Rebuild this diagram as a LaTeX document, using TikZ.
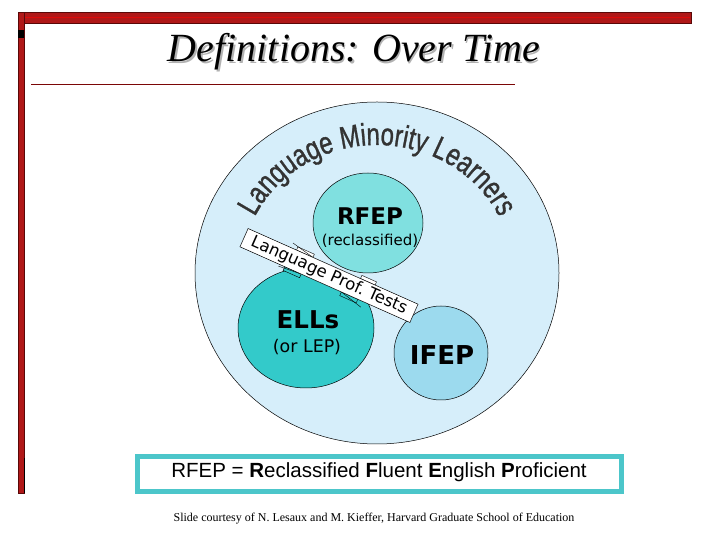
\documentclass[tikz,border=0pt]{standalone}
\usepackage{fontspec}
\setmainfont{Liberation Serif}
\newfontfamily\dvfont{DejaVu Sans}
\newfontfamily\lsfont{Liberation Sans}
\newfontfamily\lsboldfont[FakeBold=1.2]{Liberation Sans}
\usetikzlibrary{decorations.text}
\definecolor{framered}{HTML}{B01818}
\definecolor{framedark}{HTML}{5A0808}
\definecolor{outerblue}{HTML}{D6EEFA}
\definecolor{rfepcol}{HTML}{80E0E0}
\definecolor{ellcol}{HTML}{33CACA}
\definecolor{ifepcol}{HTML}{9CDAEE}
\definecolor{boxteal}{HTML}{4CC6CA}
\definecolor{arcgray}{HTML}{333333}
\newcommand\vstretchchar[1]{\scalebox{1}[1.3]{#1}}
\tikzset{
  bubble/.style={draw=black, line width=0.5pt},
  biglabel/.style={font=\dvfont\bfseries\fontsize{#1}{#1}\selectfont, inner sep=0pt},
  smalllabel/.style={font=\dvfont\fontsize{#1}{#1}\selectfont, inner sep=0pt},
  tabwhite/.style={fill=white, draw=black, line width=0.4pt},
  tabteal/.style={fill=ellcol, draw=black, line width=0.4pt},
}
\begin{document}
\begin{tikzpicture}[x=1pt,y=1pt]
\useasboundingbox (0,0) rectangle (720,540);
\fill[white] (0,0) rectangle (720,540);
% frame
\fill[framered, draw=framedark, line width=0.6pt] (18,517) rectangle (691,528);
\draw[red!60!framered, line width=0.8pt] (24,522.5) -- (690,522.5);
\fill[framered, draw=framedark, line width=0.6pt] (18,47) rectangle (24,528);
\fill[black] (18,502) rectangle (24,510);
\draw[black, line width=0.8pt] (24.2,47) -- (24.2,82);
% title
\node[text=black!30, font=\itshape\fontsize{40}{40}\selectfont, inner sep=0pt] at (355.5,486.5) {Definitions: Over Time};
\node (title) [text=black, font=\itshape\fontsize{40}{40}\selectfont, inner sep=0pt] at (354,488) {Definitions: Over Time};
\draw[framedark!80!red, line width=0.8pt] (31,456) -- (515,456);
% circles
\fill[outerblue, draw=black, line width=0.5pt] (377,267) ellipse [x radius=182pt, y radius=171pt];
\node (outer) at (377,267) {};
\path[decorate, decoration={text effects along path, text={Language Minority Learners}, text align=center,
  text effects/.cd, text along path,
  characters={text=arcgray, font=\lsboldfont\fontsize{24}{24}\selectfont, inner sep=0pt},
  character command=\vstretchchar}]
  (377,267) ++(154:136pt and 128pt) arc[start angle=154, end angle=26, x radius=136pt, y radius=128pt];
\fill[rfepcol, bubble] (368,317) ellipse [x radius=55pt, y radius=50pt];
\fill[ellcol, bubble] (306,212) ellipse [x radius=68pt, y radius=60pt];
\fill[ifepcol, bubble] (441,187) ellipse [x radius=47pt, y radius=47pt];
% ribbon tabs and banner
\begin{scope}[shift={(329,264.5)}, rotate=-24]
  \draw[tabwhite] (-40,10) rectangle (-22,13.5);
  \draw[black, line width=0.4pt] (-46,15) -- (-22,10);
  \draw[tabwhite] (30,10) rectangle (46,13.5);
  \draw[black, line width=0.4pt] (30,10) -- (52,6);
  \draw[tabteal] (-44,-10) rectangle (-26,-14);
  \draw[black, line width=0.4pt] (-50,-12) -- (-26,-10);
  \draw[tabteal] (18,-10) rectangle (36,-14);
  \draw[black, line width=0.4pt] (18,-10) -- (42,-16);
\end{scope}
\node (banner) [rotate=-24, fill=white, draw=black, line width=0.5pt, minimum width=186pt, minimum height=20pt, inner sep=0pt,
    font=\dvfont\fontsize{16.5}{16.5}\selectfont] at (329,264.5) {Language Prof.\ Tests};
% labels
\node (rfep) [biglabel=23] at (370,324) {RFEP};
\node (recl) [smalllabel=15] at (370,299) {(reclassified)};
\node (ells) [biglabel=24.5] at (308,220) {ELLs};
\node (lep) [smalllabel=17.4] at (307,193) {(or LEP)};
\node (ifep) [biglabel=26] at (442,185) {IFEP};
% bottom box
\draw[boxteal, line width=4.5pt, fill=white] (137.5,48.5) rectangle (621.5,83.5);
\node (def) [font=\lsfont\fontsize{20.5}{20.5}\selectfont, inner sep=0pt] at (379,68)
  {RFEP = \textbf{R}eclassified \textbf{F}luent \textbf{E}nglish \textbf{P}roficient};
\node (credit) [font=\fontsize{12}{12}\selectfont, inner sep=0pt] at (374,21)
  {Slide courtesy of N. Lesaux and M. Kieffer, Harvard Graduate School of Education};
\end{tikzpicture}
\end{document}
